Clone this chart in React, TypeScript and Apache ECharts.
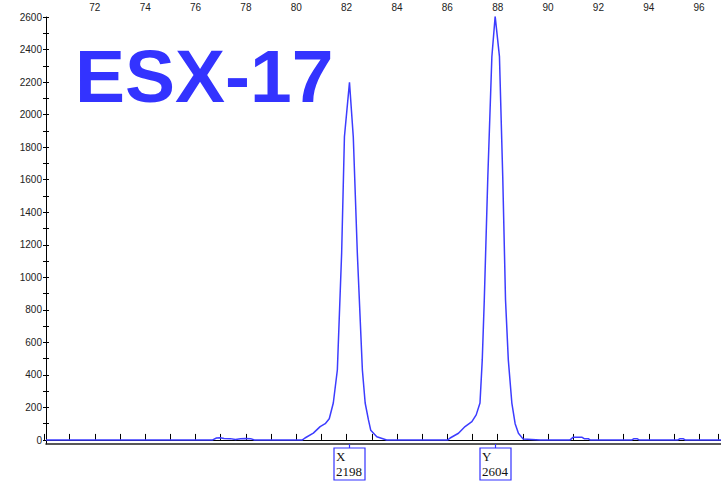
import { useEffect, useRef } from 'react';
import * as echarts from 'echarts';

// Electropherogram trace (size in bp vs. RFU)
const positions = [
  70.06, 76.65, 76.8, 76.95, 77.1, 77.35, 77.55, 77.75, 77.95, 78.15, 78.3,
  80.2, 80.3, 80.63, 80.9, 81.1, 81.26, 81.42, 81.58, 81.75, 81.86, 82.06,
  82.21, 82.37, 82.57, 82.68, 82.81, 82.9, 83.14, 83.53,
  85.95, 86.04, 86.37, 86.63, 86.9, 87.07, 87.22, 87.31, 87.39, 87.53, 87.69, 87.82,
  87.99, 88.12, 88.23, 88.34, 88.48, 88.61, 88.74, 88.93, 89.6,
  90.78, 90.9, 91.26, 91.34, 91.5, 91.57,
  93.23, 93.31, 93.43, 93.51,
  95.05, 95.13, 95.25, 95.33, 96.75,
];
const intensities = [
  0, 0, 12, 14, 9, 8, 3, 7, 9, 8, 0,
  0, 12, 42, 82, 100, 130, 227, 430, 1149, 1864, 2198,
  1864, 1149, 430, 227, 123, 60, 20, 0,
  0, 12, 41, 82, 113, 154, 227, 492, 860, 1618, 2356, 2604,
  2356, 1618, 860, 492, 227, 100, 41, 5, 0,
  0, 16, 16, 8, 8, 0,
  0, 8, 8, 0,
  0, 8, 8, 0, 0,
];

const peakNames = ['X', 'Y'];
const peakPositions = [82.06, 87.82];
const peakHeights = [2198, 2604];

const titleText = 'ESX-17';

const X_MIN = 70.06;
const X_MAX = 96.75;
const Y_MIN = -25;
const Y_MAX = 2600;

const BLUE = '#3333ff';
const AXIS_FONT = 'Liberation Sans, Arial, sans-serif';

export default function App() {
  const ref = useRef<HTMLDivElement>(null);

  useEffect(() => {
    if (!ref.current) return;
    const chart = echarts.init(ref.current, undefined, { renderer: 'svg' });

    const hidden = { show: false };

    const option: any = {
      animation: false,
      backgroundColor: '#ffffff',
      grid: [
        { left: 46, right: 0, top: 17, bottom: 39 },
        { left: 44.48, right: 0, top: 17, bottom: 39 },
        { left: 46, right: 0, top: 17, bottom: 43 },
      ],
      xAxis: [
        {
          gridIndex: 0, type: 'value', position: 'top', min: X_MIN, max: X_MAX,
          axisLine: { show: true, lineStyle: { color: '#000', width: 1 } },
          axisTick: hidden, axisLabel: hidden, splitLine: hidden,
        },
        {
          gridIndex: 0, type: 'value', position: 'bottom', min: X_MIN, max: X_MAX,
          axisLine: { show: true, lineStyle: { color: '#222', width: 1.6 } },
          axisTick: hidden, axisLabel: hidden, splitLine: hidden,
        },
        {
          gridIndex: 1, type: 'value', position: 'top', min: 70, max: X_MAX, interval: 1,
          offset: -3,
          axisLine: hidden,
          axisTick: { show: true, length: 6, lineStyle: { color: '#000', width: 1 } },
          axisLabel: {
            show: true, margin: 8, fontSize: 10, color: '#222', fontFamily: AXIS_FONT,
            formatter: (v: number) => (v % 2 === 0 && v > 70 ? String(v) : ''),
          },
          splitLine: hidden,
        },
        { gridIndex: 2, type: 'value', show: false, min: X_MIN, max: X_MAX },
      ],
      yAxis: [
        {
          gridIndex: 0, type: 'value', min: Y_MIN, max: Y_MAX,
          axisLine: { show: true, lineStyle: { color: '#000', width: 1 } },
          axisTick: hidden, axisLabel: hidden, splitLine: hidden,
        },
        { gridIndex: 1, type: 'value', show: false, min: Y_MIN, max: Y_MAX },
        {
          gridIndex: 2, type: 'value', min: 0, max: 2600, interval: 100, offset: -3,
          axisLine: hidden,
          axisTick: { show: true, length: 6, lineStyle: { color: '#000', width: 1 } },
          axisLabel: {
            show: true, margin: 7, fontSize: 10, color: '#222', fontFamily: AXIS_FONT,
            formatter: (v: number) => (v % 200 === 0 ? String(v) : ''),
          },
          splitLine: hidden,
        },
      ],
      graphic: [
        {
          type: 'text',
          x: 75,
          y: 75.5,
          z: 10,
          style: {
            text: titleText,
            fill: BLUE,
            font: 'bold 75px "Liberation Sans", Arial, sans-serif',
            verticalAlign: 'middle',
            align: 'left',
          },
        },
      ],
      series: [
        {
          type: 'line',
          xAxisIndex: 0,
          yAxisIndex: 0,
          data: positions.map((p, i) => [p, intensities[i]]),
          showSymbol: false,
          symbol: 'none',
          smooth: false,
          silent: true,
          lineStyle: { color: '#3c3cff', width: 1.5 },
        },
        {
          type: 'custom',
          xAxisIndex: 0,
          yAxisIndex: 0,
          silent: true,
          clip: false,
          z: 5,
          data: peakPositions.map((p, i) => [p, peakHeights[i], i]),
          renderItem: (_params: any, api: any) => {
            const idx = api.value(2);
            const pt = api.coord([api.value(0), Y_MIN]);
            const cx = Math.round(pt[0]) + 0.5;
            const y0 = pt[1];
            return {
              type: 'group',
              children: [
                {
                  type: 'line',
                  shape: { x1: cx, y1: y0, x2: cx, y2: y0 + 4 },
                  style: { stroke: BLUE, lineWidth: 1.2 },
                },
                {
                  type: 'rect',
                  shape: { x: cx - 15.5, y: y0 + 4, width: 31, height: 32 },
                  style: { stroke: BLUE, lineWidth: 1.2, fill: '#fff' },
                },
                {
                  type: 'text',
                  x: cx - 13.5,
                  y: y0 + 5,
                  style: {
                    text: `${peakNames[idx]}\n${peakHeights[idx]}`,
                    fill: '#111',
                    font: '13px "Liberation Serif", "Times New Roman", serif',
                    lineHeight: 15,
                    align: 'left',
                    verticalAlign: 'top',
                  },
                },
              ],
            };
          },
        },
      ],
    };

    chart.setOption(option);
    return () => chart.dispose();
  }, []);

  return (
    <div
      ref={ref}
      style={{ position: 'absolute', left: 0, top: 0, width: 721, height: 483 }}
    />
  );
}
